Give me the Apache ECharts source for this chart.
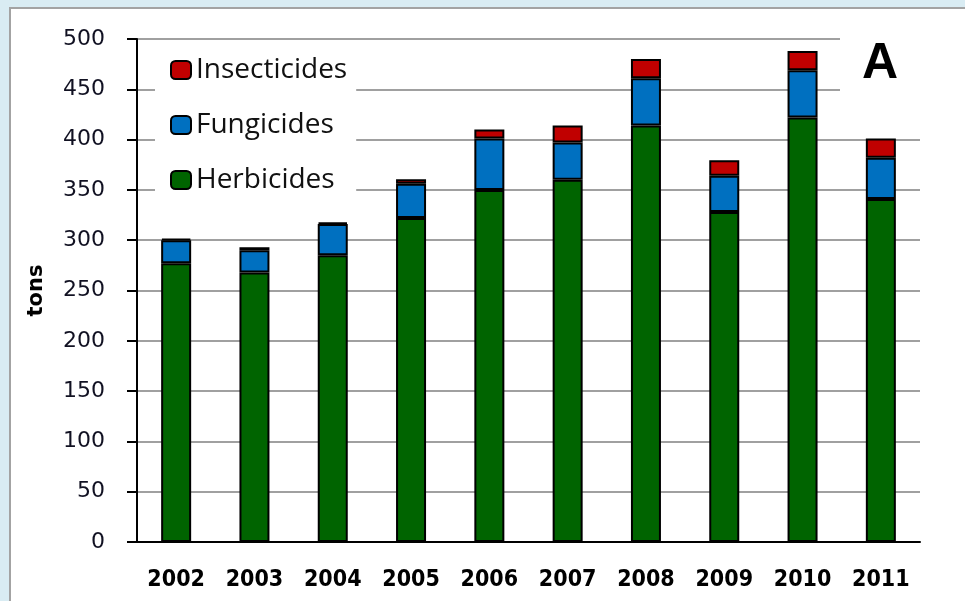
<!DOCTYPE html>
<html>
<head>
<meta charset="utf-8">
<script src="https://cdn.jsdelivr.net/npm/echarts@6/dist/echarts.min.js"></script>
<style>
  html, body { margin: 0; padding: 0; width: 965px; height: 601px; overflow: hidden; background: #d9ecf3; }
  #panel { position: absolute; left: 9px; top: 7px; width: 980px; height: 620px; background: #fff; border: 2px solid #a3a3a3; }
  #chart { position: absolute; left: 0; top: 0; width: 965px; height: 601px; }
</style>
</head>
<body>
<div id="panel"></div>
<div id="chart"></div>
<script>
// years on the x axis
var years = ["2002", "2003", "2004", "2005", "2006", "2007", "2008", "2009", "2010", "2011"];
// tons
var herbicides = [277, 268, 285, 322, 350, 360, 414, 328, 422, 341];
var fungicides = [23, 22, 31, 34, 51, 37, 47, 36, 47, 41];
var insecticides = [1.5, 3, 1.5, 4.5, 9, 17, 19, 15.5, 19, 19];
var legendOrder = ["Insecticides", "Fungicides", "Herbicides"];

var chart = echarts.init(document.getElementById("chart"));

function barSeries(name, data, color) {
  return {
    name: name,
    type: "bar",
    stack: "total",
    barWidth: 30,
    data: data,
    itemStyle: { color: color, borderColor: "#000", borderWidth: 2 }
  };
}

var option = {
  animation: false,
  grid: { left: 137, right: 45, top: 39, bottom: 59 },
  legend: {
    orient: "vertical",
    left: 155,
    top: 42,
    padding: [13, 9, 12, 15],
    backgroundColor: "#fff",
    data: legendOrder,
    itemWidth: 20,
    itemHeight: 18,
    itemGap: 25,
    textStyle: { fontFamily: "Open Sans", fontSize: 28, lineHeight: 30, color: "#111" }
  },
  xAxis: {
    type: "category",
    data: years,
    axisLine: { lineStyle: { color: "#000", width: 2 } },
    axisTick: { length: 10, lineStyle: { color: "#000", width: 2 } },
    axisLabel: {
      interval: 0,
      margin: 27,
      color: "#000",
      fontWeight: "bold",
      fontSize: 23,
      fontFamily: "DejaVu Sans Condensed, sans-serif"
    }
  },
  yAxis: {
    type: "value",
    min: 0,
    max: 500,
    interval: 50,
    name: "tons",
    nameLocation: "middle",
    nameGap: 90,
    nameTextStyle: { fontFamily: "DejaVu Sans", fontWeight: "bold", fontSize: 21, color: "#000" },
    axisLine: { show: true, lineStyle: { color: "#000", width: 2 } },
    axisTick: { show: true, length: 10, lineStyle: { color: "#000", width: 2 } },
    axisLabel: { margin: 32, color: "#111122", fontFamily: "DejaVu Sans", fontSize: 22 },
    splitLine: { lineStyle: { color: "#a0a0a0", width: 2 } }
  },
  graphic: [
    { type: "rect", z: 100, shape: { x: 840, y: 28, width: 84, height: 92 }, style: { fill: "#fff" } },
    {
      type: "text", z: 101, x: 880, y: 64,
      style: { text: "A", fill: "#000", font: "bold 50px 'Liberation Sans'", textAlign: "center", textVerticalAlign: "middle" }
    }
  ],
  series: [
    barSeries("Herbicides", herbicides, "#006400"),
    barSeries("Fungicides", fungicides, "#0070c0"),
    barSeries("Insecticides", insecticides, "#c00000")
  ]
};

chart.setOption(option);
</script>
</body>
</html>
